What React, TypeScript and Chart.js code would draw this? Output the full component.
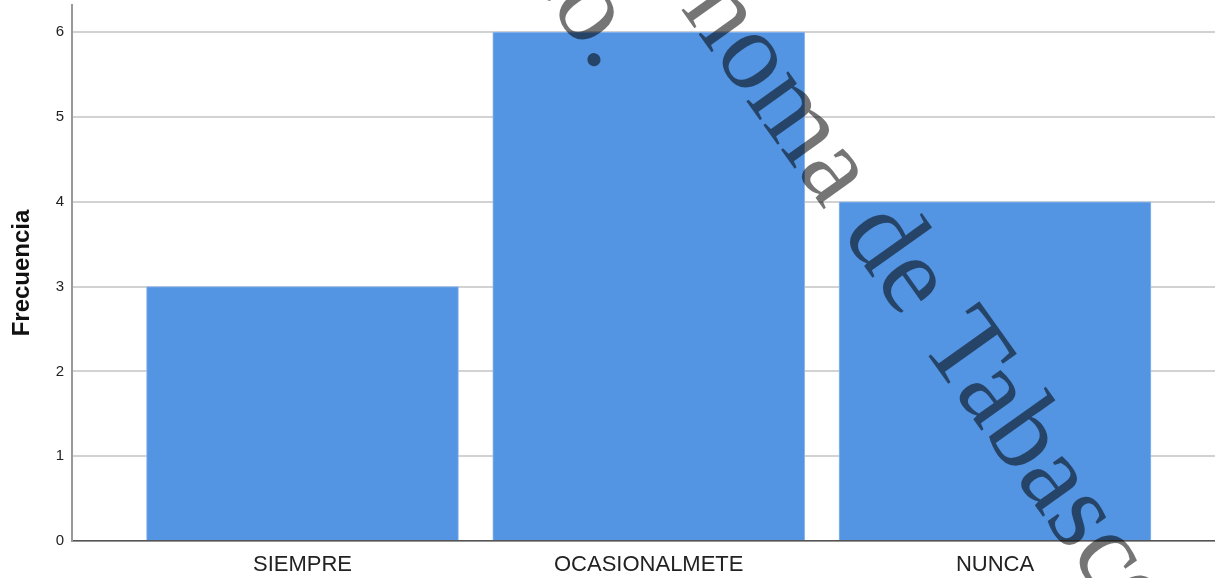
import React, { useEffect, useRef } from "react";
import { Chart, registerables } from "chart.js";

Chart.register(...registerables);

const categories = ["SIEMPRE", "OCASIONALMETE", "NUNCA"];
const frecuencias = [3, 6, 4];
const yTicks = [0, 1, 2, 3, 4, 5, 6];
const yTitle = "Frecuencia";
const watermarkLine1 = "Autónoma de Tabasco";
const watermarkLine1Lead = "Autó";
const watermarkLine2 = "México.";

const W = 1215;
const H = 578;

const watermarkPlugin = {
  id: "watermark",
  afterDraw(chart: any) {
    const ctx = chart.ctx as CanvasRenderingContext2D;
    const angle = (54.5 * Math.PI) / 180;
    ctx.save();
    ctx.font = '112px "Liberation Serif", "DejaVu Serif", serif';
    ctx.fillStyle = "rgba(0,0,0,0.54)";
    ctx.textBaseline = "alphabetic";
    // line 1
    ctx.save();
    ctx.translate(680, 8);
    ctx.rotate(angle);
    const lead = ctx.measureText(watermarkLine1Lead).width;
    ctx.textAlign = "left";
    ctx.fillText(watermarkLine1, -lead, 0);
    ctx.restore();
    // line 2
    ctx.save();
    ctx.translate(598, 74);
    ctx.rotate(angle);
    ctx.textAlign = "right";
    ctx.fillText(watermarkLine2, 0, 0);
    ctx.restore();
    ctx.restore();
  },
};

export default function App() {
  const ref = useRef<HTMLCanvasElement | null>(null);

  useEffect(() => {
    document.body.style.margin = "0";
    const canvas = ref.current!;
    const data = frecuencias.map((v, i) => ({ x: i + 1, y: v }));
    const chart = new Chart(canvas, {
      type: "bar",
      data: {
        datasets: [
          {
            data: data as any,
            backgroundColor: "#5395e3",
            borderColor: "#8fb9ee",
            borderWidth: 1,
            borderSkipped: "bottom",
            barThickness: 312,
          },
        ],
      },
      plugins: [watermarkPlugin],
      options: {
        responsive: false,
        animation: false,
        devicePixelRatio: 1,
        layout: { padding: { top: 5, right: 0, left: 0, bottom: 0 } },
        plugins: {
          legend: { display: false },
          tooltip: { enabled: false },
        },
        scales: {
          x: {
            type: "linear",
            offset: false,
            min: 0.3343,
            max: 3.6354,
            afterBuildTicks: (scale: any) => {
              scale.ticks = categories.map((_, i) => ({ value: i + 1 }));
            },
            afterFit: (scale: any) => {
              scale.height = 37;
              scale.paddingLeft = 0;
              scale.paddingRight = 0;
            },
            ticks: {
              autoSkip: false,
              maxRotation: 0,
              padding: 11,
              color: "#222222",
              font: { family: '"Liberation Sans", Arial, sans-serif', size: 22 },
              callback: (v: any) => categories[Number(v) - 1] ?? "",
            },
            grid: { display: false, drawTicks: false, offset: false },
            border: { display: true, color: "#555555", width: 1.5 },
          },
          y: {
            min: 0,
            max: 6.32,
            afterBuildTicks: (scale: any) => {
              scale.ticks = yTicks.map((v) => ({ value: v }));
            },
            afterFit: (scale: any) => {
              scale.width = 72;
              scale.paddingTop = 0;
              scale.paddingBottom = 0;
            },
            ticks: {
              padding: 8,
              color: "#222222",
              font: { family: '"Liberation Sans", Arial, sans-serif', size: 15 },
            },
            grid: {
              color: "#d2d2d2",
              lineWidth: 2,
              drawTicks: false,
            },
            border: { display: true, color: "#999999", width: 2 },
            title: {
              display: true,
              text: yTitle,
              color: "#111111",
              padding: { top: 8, bottom: 0 },
              font: {
                family: '"Liberation Sans", Arial, sans-serif',
                size: 24,
                weight: "bold",
              },
            },
          },
        },
      },
    });
    return () => chart.destroy();
  }, []);

  return (
    <div style={{ position: "absolute", left: 0, top: 0, width: W, height: H }}>
      <canvas ref={ref} width={W} height={H} style={{ display: "block" }} />
    </div>
  );
}
